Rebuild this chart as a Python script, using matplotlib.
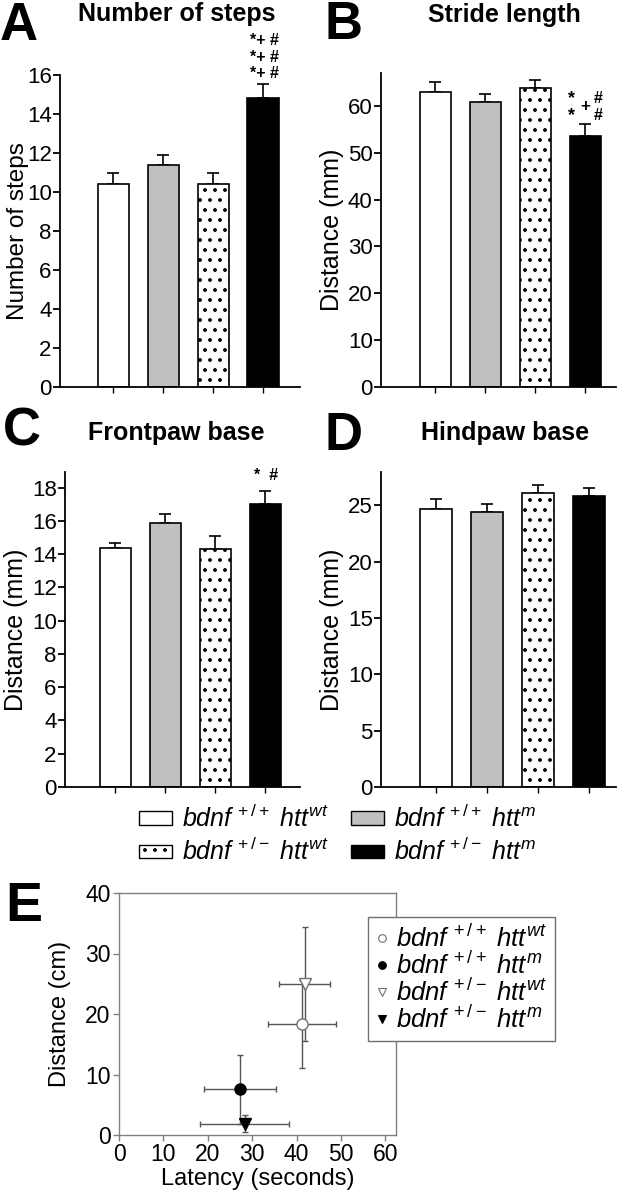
import warnings
warnings.filterwarnings('ignore')
import matplotlib
matplotlib.use('Agg')
import matplotlib.pyplot as plt
import matplotlib.hatch as mhatch
from matplotlib.patches import Patch
from matplotlib.lines import Line2D

plt.rcParams['font.family'] = ['Liberation Sans', 'DejaVu Sans']
plt.rcParams['mathtext.fontset'] = 'custom'
plt.rcParams['mathtext.rm'] = 'Liberation Sans'
plt.rcParams['mathtext.it'] = 'Liberation Sans:italic'
plt.rcParams['mathtext.bf'] = 'Liberation Sans:bold'
plt.rcParams['hatch.linewidth'] = 1.0


# sparse dotted fill pattern (hatch 'd')
class SparseDots(mhatch.Circles):
    size = 0.12
    filled = True

    def __init__(self, hatch, density):
        self.num_rows = hatch.count('d') * 10
        super().__init__(hatch, density)


mhatch._hatch_types.append(SparseDots)

# ---------------- data ----------------
groups = [r"$bdnf^{\,+/+}\ htt^{wt}$", r"$bdnf^{\,+/+}\ htt^{m}$",
          r"$bdnf^{\,+/-}\ htt^{wt}$", r"$bdnf^{\,+/-}\ htt^{m}$"]

steps_mean = [10.4, 11.4, 10.4, 14.8]
steps_sem = [0.6, 0.5, 0.6, 0.75]
stride_mean = [62.9, 60.9, 63.7, 53.6]
stride_sem = [2.1, 1.6, 1.9, 2.5]
front_mean = [14.4, 15.9, 14.3, 17.0]
front_sem = [0.3, 0.5, 0.8, 0.8]
hind_mean = [24.7, 24.4, 26.1, 25.8]
hind_sem = [0.85, 0.7, 0.7, 0.75]

latency_mean = [41.2, 27.2, 41.8, 28.3]
latency_sem = [7.6, 8.1, 5.7, 10.1]
distance_mean = [18.3, 7.6, 24.9, 1.9]
distance_sem = [7.3, 5.7, 9.4, 1.4]

# ---------------- style ----------------
face = ['white', '#c0c0c0', 'white', 'black']
hatches = [None, None, 'd', None]
TICK_FS = 16
LAB_FS = 18

W, H = 622, 1199
fig = plt.figure(figsize=(W / 100, H / 100), dpi=100)


def ax_px(l, t, r, b):
    return fig.add_axes([l / W, 1 - b / H, (r - l) / W, (b - t) / H])


def fx(x):
    return x / W


def fy(y):
    return 1 - y / H


def bar_panel(ax, mean, sem, ylim, yticks, xlim, ylabel, lpad, lfs=LAB_FS):
    x = list(range(len(mean)))
    for i in x:
        ax.bar(i, mean[i], width=0.62, color=face[i], edgecolor='black',
               linewidth=1.2, hatch=hatches[i], zorder=2)
    ax.errorbar(x, mean, yerr=[[0] * len(sem), sem], fmt='none', ecolor='black',
                elinewidth=1.2, capsize=4, capthick=1.2, zorder=1)
    ax.set_xlim(*xlim)
    ax.set_ylim(*ylim)
    ax.set_yticks(yticks)
    ax.set_xticks(x)
    ax.set_xticklabels([])
    for s in ['top', 'right']:
        ax.spines[s].set_visible(False)
    for s in ['left', 'bottom']:
        ax.spines[s].set_linewidth(1.3)
    ax.tick_params(axis='y', labelsize=TICK_FS, length=5, width=1.3, pad=1)
    ax.tick_params(axis='x', length=4, width=1.0)
    ax.set_ylabel(ylabel, fontsize=lfs, labelpad=lpad)


# Panel A
axA = ax_px(60, 75, 300, 387)
bar_panel(axA, steps_mean, steps_sem, (0, 16), range(0, 17, 2), (-1.06, 3.74),
          'Number of steps', -1.5, 17.5)
for yy in [17.75, 16.9, 16.1]:
    axA.text(3.02, yy, '*+ #', ha='center', va='center', fontsize=11.5,
             fontweight='bold', clip_on=False)

# Panel B
axB = ax_px(381, 73, 616, 387)
bar_panel(axB, stride_mean, stride_sem, (0, 67), range(0, 61, 10), (-1.08, 3.62),
          'Distance (mm)', 3)
for yy in [61.6, 58.0]:
    axB.text(2.72, yy, '*', ha='center', va='center', fontsize=13, fontweight='bold')
    axB.text(3.27, yy, '#', ha='center', va='center', fontsize=11.5, fontweight='bold')
axB.text(3.0, 59.9, '+', ha='center', va='center', fontsize=12, fontweight='bold')

# Panel C
axC = ax_px(65, 472, 300, 787)
bar_panel(axC, front_mean, front_sem, (0, 18.94), range(0, 19, 2), (-1.0, 3.7),
          'Distance (mm)', 3)
axC.text(3.03, 18.7, '*  #', ha='center', va='center', fontsize=11.5,
         fontweight='bold', clip_on=False)

# Panel D
axD = ax_px(381, 472, 616, 787)
bar_panel(axD, hind_mean, hind_sem, (0, 27.96), range(0, 26, 5), (-1.08, 3.53),
          'Distance (mm)', 3)

# Titles and panel letters
fig.text(fx(177), fy(14), 'Number of steps', ha='center', va='center',
         fontsize=18, fontweight='bold')
fig.text(fx(504), fy(15), 'Stride length', ha='center', va='center',
         fontsize=18, fontweight='bold')
fig.text(fx(176), fy(433), 'Frontpaw base', ha='center', va='center',
         fontsize=18, fontweight='bold')
fig.text(fx(505), fy(433), 'Hindpaw base', ha='center', va='center',
         fontsize=18, fontweight='bold')
for lab, x, y, fs in [('A', 0, 40, 38), ('B', 324, 39, 38), ('C', 3, 446, 38),
                      ('D', 324, 450, 38), ('E', 5, 921, 40)]:
    fig.text(fx(x), fy(y), lab, ha='left', va='baseline', fontsize=fs,
             fontweight='bold')

# Bar legend
handles = [Patch(facecolor=face[i], edgecolor='black', linewidth=1.0,
                 hatch=hatches[i]) for i in [0, 2, 1, 3]]
labels = [groups[i] for i in [0, 2, 1, 3]]
fig.legend(handles, labels, ncol=2, frameon=False, loc='center',
           bbox_to_anchor=(fx(338), fy(835)), fontsize=18,
           handlelength=1.3, handleheight=0.45, handletextpad=0.4,
           columnspacing=0.9, labelspacing=0.25, borderpad=0)

# Panel E
axE = ax_px(119, 893, 396, 1135)
markers = ['o', 'o', 'v', 'v']
mfc = ['white', 'black', 'white', 'black']
mec = ['#707070', 'black', '#707070', 'black']
for i in range(4):
    axE.errorbar(latency_mean[i], distance_mean[i], xerr=latency_sem[i],
                 yerr=distance_sem[i], fmt='none', ecolor='#555555',
                 elinewidth=1.0, capsize=2.5, capthick=1.0, zorder=1)
for i in range(4):
    axE.plot(latency_mean[i], distance_mean[i], marker=markers[i], ms=8,
             mfc=mfc[i], mec=mec[i], mew=1.0, ls='none', zorder=3)
axE.set_xlim(0, 62.4)
axE.set_ylim(0, 40)
axE.set_xticks(range(0, 61, 10))
axE.set_yticks(range(0, 41, 10))
for s in axE.spines.values():
    s.set_color('#808080')
    s.set_linewidth(1.0)
axE.tick_params(labelsize=16.5, length=4, width=1.0, color='#808080', pad=2)
axE.set_xlabel('Latency (seconds)', fontsize=17, labelpad=1)
axE.set_ylabel('Distance (cm)', fontsize=17, labelpad=10)

ehandles = [Line2D([], [], marker=markers[i], ms=5.5, mfc=mfc[i], mec=mec[i],
                   mew=0.8, ls='none') for i in range(4)]
leg = fig.legend(ehandles, groups, loc='upper left',
                 bbox_to_anchor=(fx(368), fy(917)), fontsize=18.5,
                 frameon=True, fancybox=False, framealpha=1, edgecolor='#707070',
                 handlelength=0.5, handletextpad=0.3, labelspacing=0.0,
                 borderpad=0.3, borderaxespad=0)
leg.get_frame().set_linewidth(1.0)

fig.savefig('out.png', dpi=100)
